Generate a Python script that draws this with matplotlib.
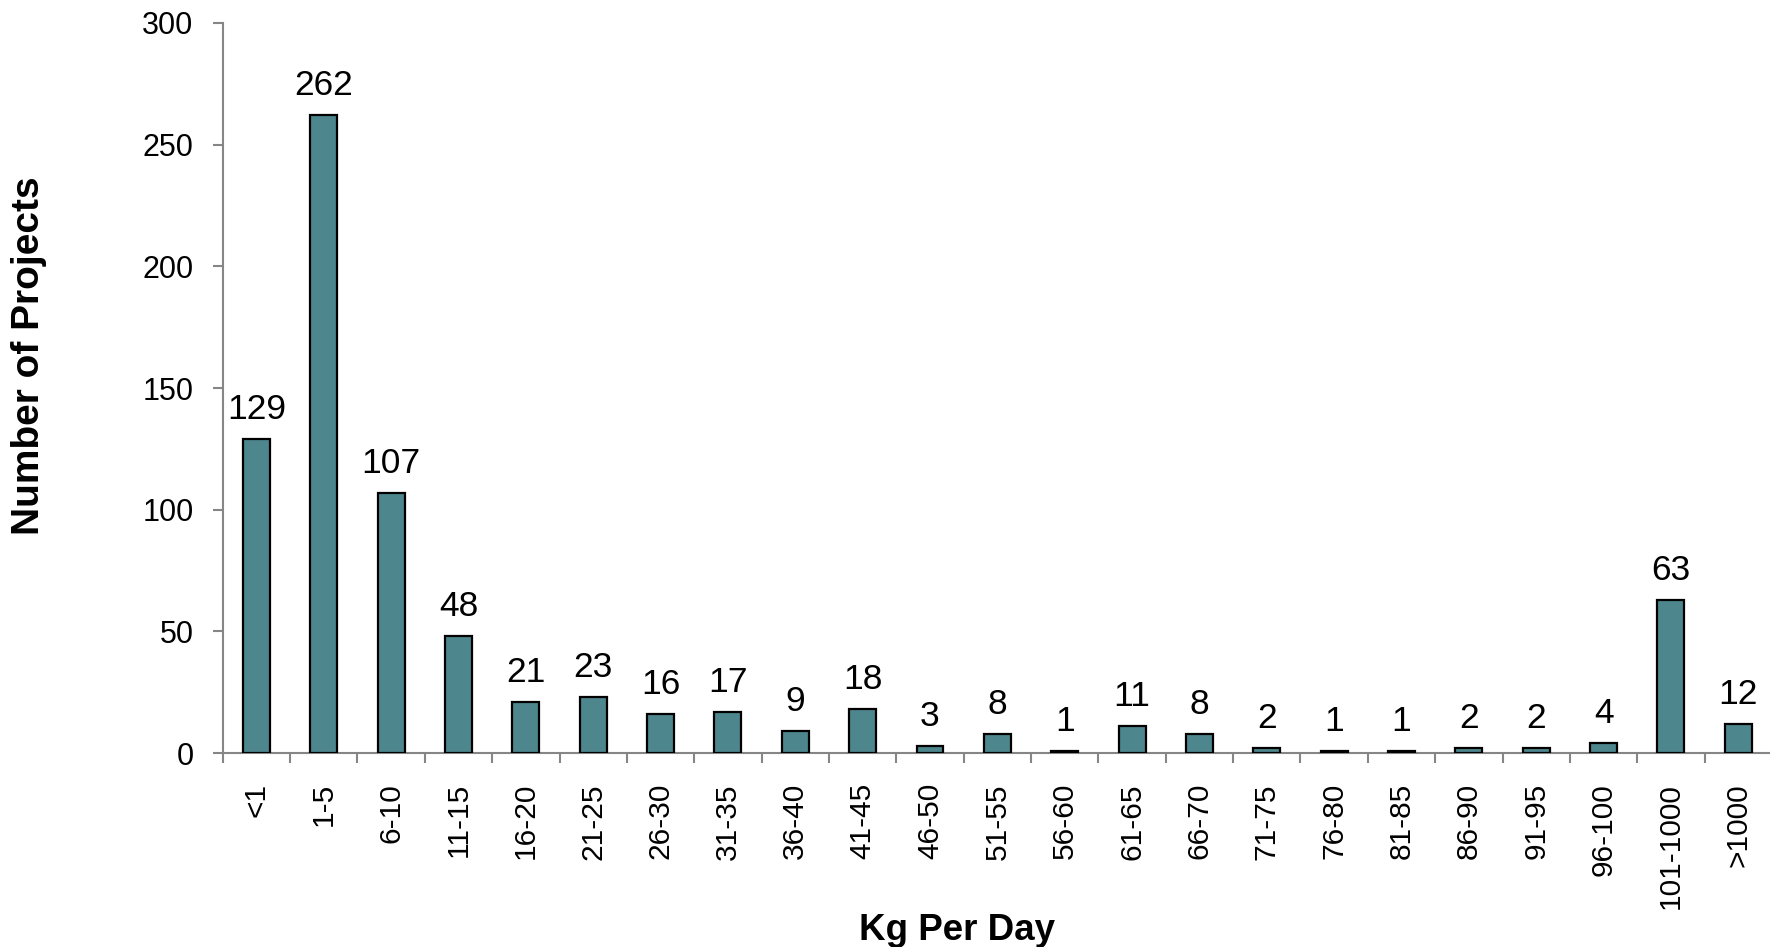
import matplotlib
matplotlib.use("Agg")
import matplotlib.pyplot as plt
import numpy as np

plt.rcParams['font.family'] = ['Liberation Sans', 'DejaVu Sans']

categories = ["<1", "1-5", "6-10", "11-15", "16-20", "21-25", "26-30", "31-35",
              "36-40", "41-45", "46-50", "51-55", "56-60", "61-65", "66-70",
              "71-75", "76-80", "81-85", "86-90", "91-95", "96-100",
              "101-1000", ">1000"]
projects = [129, 262, 107, 48, 21, 23, 16, 17, 9, 18, 3, 8, 1, 11, 8,
            2, 1, 1, 2, 2, 4, 63, 12]
y_ticks = [0, 50, 100, 150, 200, 250, 300]

W, H = 1770, 947
fig = plt.figure(figsize=(W / 100, H / 100), dpi=100)
ax_left, ax_right = 222.7, 1772.0
ax_top, ax_bottom = 23.0, 753.0
ax = fig.add_axes([ax_left / W, (H - ax_bottom) / H,
                   (ax_right - ax_left) / W, (ax_bottom - ax_top) / H])

bar_color = "#4E868E"
axis_color = "#868686"
x = np.arange(len(categories))
ax.bar(x, projects, width=0.4, color=bar_color, edgecolor="black",
       linewidth=1.6, zorder=3)

for xi, v in zip(x, projects):
    ax.annotate(str(v), (xi, v), xytext=(0, 14.4), textcoords="offset points",
                ha="center", va="baseline", fontsize=25.5, color="black")

ax.set_xlim(-0.5, len(categories) - 0.5)
ax.set_ylim(0, 300)
ax.set_yticks(y_ticks)
ax.set_yticklabels([str(t) for t in y_ticks])
ax.set_xticks(x)
ax.set_xticklabels(categories, rotation=90, va="top", ha="center")
ax.set_xticks(np.arange(len(categories) + 1) - 0.5, minor=True)

for side in ("top", "right"):
    ax.spines[side].set_visible(False)
for side in ("left", "bottom"):
    ax.spines[side].set_color(axis_color)
    ax.spines[side].set_linewidth(1.5)

ax.tick_params(axis="y", which="major", direction="out", length=7,
               width=1.5, color=axis_color, pad=14.0, labelsize=22,
               labelcolor="black")
ax.tick_params(axis="x", which="major", length=0, pad=21.6, labelsize=21.5,
               labelcolor="black")
ax.tick_params(axis="x", which="minor", direction="out", length=7,
               width=1.5, color=axis_color)

fig.text(29 / W, 1 - 356 / H, "Number of Projects", rotation=90,
         ha="center", va="center", fontsize=28, fontweight="bold")
fig.text(957 / W, 7 / H, "Kg Per Day", ha="center", va="baseline",
         fontsize=26.5, fontweight="bold")

fig.savefig("out.png", dpi=100)
